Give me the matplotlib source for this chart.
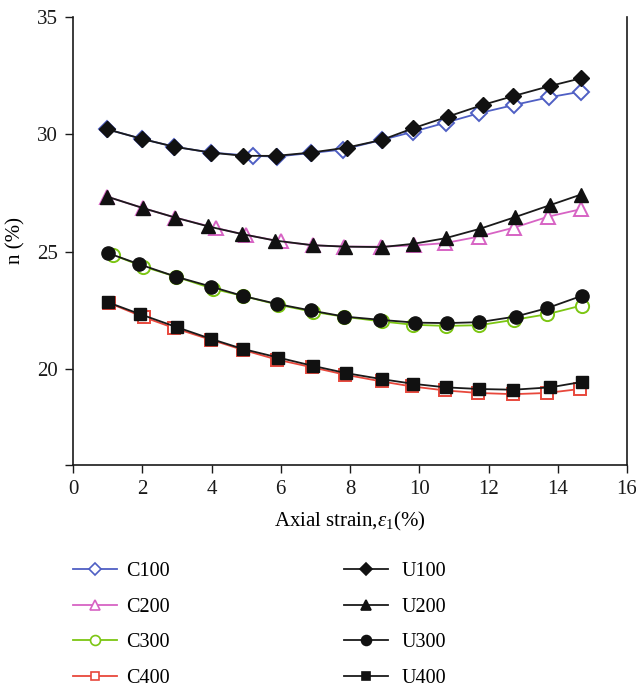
import matplotlib
matplotlib.use("Agg")
import matplotlib.pyplot as plt
from matplotlib.lines import Line2D

plt.rcParams['font.family'] = ['Liberation Serif', 'DejaVu Serif']
plt.rcParams['mathtext.fontset'] = 'custom'
plt.rcParams['mathtext.rm'] = 'Liberation Serif'
plt.rcParams['mathtext.it'] = 'Liberation Serif:italic'

# ---- data ----
x_u100 = [0.97, 2.00, 2.92, 3.98, 4.92, 5.86, 6.87, 7.90, 8.92, 9.83, 10.82, 11.83, 12.72, 13.78, 14.68]
y_u100 = [30.22, 29.80, 29.47, 29.22, 29.08, 29.08, 29.22, 29.43, 29.76, 30.26, 30.75, 31.25, 31.63, 32.06, 32.39]
x_c100 = [0.97, 2.00, 2.92, 3.98, 5.19, 5.88, 6.87, 7.79, 8.92, 9.83, 10.77, 11.73, 12.74, 13.76, 14.68]
y_c100 = [30.22, 29.80, 29.47, 29.22, 29.08, 29.05, 29.20, 29.35, 29.76, 30.11, 30.50, 30.90, 31.25, 31.58, 31.82]

x_u200 = [0.99, 2.03, 2.95, 3.91, 4.87, 5.83, 6.92, 7.86, 8.92, 9.83, 10.76, 11.75, 12.77, 13.78, 14.67]
y_u200 = [27.34, 26.85, 26.45, 26.07, 25.75, 25.47, 25.27, 25.21, 25.19, 25.33, 25.57, 25.97, 26.47, 26.98, 27.43]
x_c200 = [0.99, 2.03, 2.95, 4.13, 5.00, 6.00, 6.92, 7.83, 8.89, 9.85, 10.74, 11.73, 12.74, 13.73, 14.68]
y_c200 = [27.34, 26.85, 26.45, 26.00, 25.71, 25.43, 25.27, 25.21, 25.21, 25.26, 25.36, 25.64, 26.02, 26.49, 26.81]

x_u300 = [1.02, 1.91, 2.97, 3.98, 4.90, 5.88, 6.86, 7.83, 8.87, 9.88, 10.81, 11.73, 12.79, 13.70, 14.69]
y_u300 = [24.93, 24.46, 23.93, 23.51, 23.11, 22.77, 22.49, 22.23, 22.09, 21.97, 21.95, 21.99, 22.23, 22.59, 23.11]
x_c300 = [1.15, 2.03, 2.97, 4.05, 4.90, 5.93, 6.94, 7.83, 8.92, 9.81, 10.76, 11.73, 12.74, 13.70, 14.69]
y_c300 = [24.86, 24.36, 23.93, 23.41, 23.11, 22.73, 22.43, 22.22, 22.02, 21.88, 21.83, 21.86, 22.09, 22.33, 22.70]

x_u400 = [1.02, 1.94, 2.99, 3.98, 4.90, 5.93, 6.92, 7.88, 8.92, 9.83, 10.77, 11.73, 12.72, 13.78, 14.69]
y_u400 = [22.83, 22.33, 21.78, 21.28, 20.85, 20.48, 20.13, 19.82, 19.56, 19.36, 19.21, 19.14, 19.11, 19.21, 19.44]
x_c400 = [1.05, 2.05, 2.92, 3.98, 4.90, 5.90, 6.89, 7.86, 8.92, 9.78, 10.74, 11.71, 12.72, 13.68, 14.64]
y_c400 = [22.80, 22.20, 21.74, 21.24, 20.81, 20.39, 20.07, 19.75, 19.46, 19.25, 19.08, 18.97, 18.92, 18.97, 19.14]

c_labels = ['C100', 'C200', 'C300', 'C400']
u_labels = ['U100', 'U200', 'U300', 'U400']
x_ticks = [0, 2, 4, 6, 8, 10, 12, 14, 16]
y_ticks = [20, 25, 30, 35]

# ---- style ----
c_colors = ['#4f5fc4', '#d763c4', '#7cc613', '#e8483c']
markers = ['D', '^', 'o', 's']
msizes = [8.5, 10, 9.5, 8.5]

fig = plt.figure(figsize=(6.36, 6.88), dpi=100)
ax = fig.add_axes([73/636, 1-465/688, (627-73)/636, (465-17)/688])

c_data = [(x_c100, y_c100), (x_c200, y_c200), (x_c300, y_c300), (x_c400, y_c400)]
u_data = [(x_u100, y_u100), (x_u200, y_u200), (x_u300, y_u300), (x_u400, y_u400)]

c_handles = []
u_handles = []
for (xs, ys), col, m, ms, lab in zip(c_data, c_colors, markers, msizes, c_labels):
    h, = ax.plot(xs, ys, color=col, lw=1.3, marker=m, ms=ms, mfc='white', mec=col, mew=1.4, label=lab, zorder=2)
    c_handles.append(h)
for (xs, ys), m, ms, lab in zip(u_data, markers, msizes, u_labels):
    h, = ax.plot(xs, ys, color='#1a1a1a', lw=1.3, marker=m, ms=ms, mfc='#111111', mec='#111111', mew=1.0, label=lab, zorder=3)
    u_handles.append(h)

ax.set_xlim(0, 16)
ax.set_ylim(15.9, 35)
ax.set_xticks(x_ticks)
ax.set_yticks(y_ticks)
ax.set_yticks([15.9], minor=True)
ax.tick_params(axis='both', which='both', direction='out', length=6, width=1, pad=5,
               labelsize=15, colors='#1a1a1a')
ax.spines['top'].set_visible(False)
for s in ['left', 'bottom', 'right']:
    ax.spines[s].set_linewidth(1.2)
    ax.spines[s].set_color('#1a1a1a')

ax.set_xlabel(r'Axial strain,$\varepsilon_1$(%)', fontsize=15, labelpad=8)
ax.set_ylabel('n (%)', fontsize=15, labelpad=8)

def small(h):
    return Line2D([], [], color=h.get_color(), lw=1.3, marker=h.get_marker(),
                  ms=h.get_markersize()*0.75, mfc=h.get_markerfacecolor(),
                  mec=h.get_markeredgecolor(), mew=1.2)

leg1 = fig.legend([small(h) for h in c_handles], c_labels, loc='upper left',
                  bbox_to_anchor=(55/636, 1-544/688), frameon=False, fontsize=14.5,
                  handlelength=2.2, handletextpad=0.45, labelspacing=0.82)
leg2 = fig.legend([small(h) for h in u_handles], u_labels, loc='upper left',
                  bbox_to_anchor=(326/636, 1-544/688), frameon=False, fontsize=14.5,
                  handlelength=2.2, handletextpad=0.65, labelspacing=0.82)

fig.savefig('out.png', dpi=100)
